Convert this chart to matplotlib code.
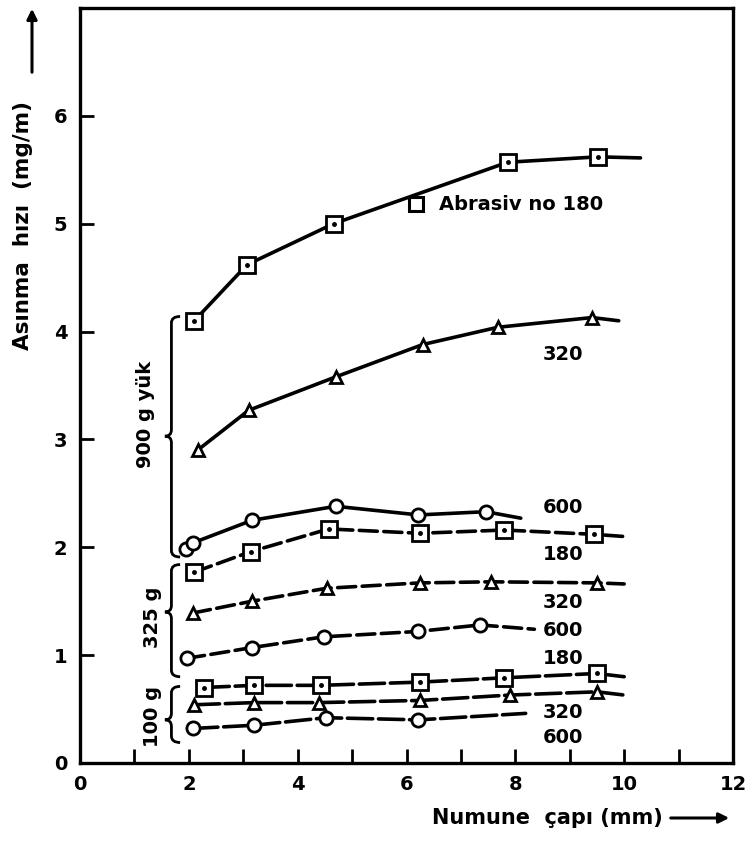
import matplotlib
matplotlib.use("Agg")
import matplotlib.pyplot as plt
from matplotlib.path import Path
from matplotlib.patches import PathPatch

# --- data ---
# 900 g load
x_900_180 = [2.1, 3.07, 4.66, 7.86, 9.52]
y_900_180 = [4.1, 4.62, 5.0, 5.57, 5.62]
x_900_320 = [2.16, 3.1, 4.7, 6.3, 7.68, 9.41]
y_900_320 = [2.9, 3.27, 3.58, 3.88, 4.04, 4.13]
x_900_600 = [1.95, 2.07, 3.16, 4.7, 6.22, 7.46]
y_900_600 = [1.98, 2.04, 2.25, 2.38, 2.3, 2.33]
# 325 g load
x_325_180 = [2.1, 3.14, 4.57, 6.25, 7.8, 9.45]
y_325_180 = [1.77, 1.96, 2.17, 2.13, 2.16, 2.12]
x_325_320 = [2.07, 3.16, 4.53, 6.25, 7.56, 9.5]
y_325_320 = [1.39, 1.5, 1.62, 1.67, 1.68, 1.67]
x_325_600 = [1.96, 3.16, 4.48, 6.22, 7.35]
y_325_600 = [0.97, 1.07, 1.17, 1.22, 1.28]
# 100 g load
x_100_180 = [2.28, 3.2, 4.42, 6.25, 7.8, 9.5]
y_100_180 = [0.7, 0.72, 0.72, 0.75, 0.79, 0.83]
x_100_320 = [2.1, 3.2, 4.39, 6.25, 7.9, 9.5]
y_100_320 = [0.54, 0.56, 0.56, 0.58, 0.63, 0.66]
x_100_600 = [2.07, 3.2, 4.52, 6.22]
y_100_600 = [0.32, 0.35, 0.42, 0.4]

# where each drawn curve runs out past the last marker
end_900_180 = (10.3, 5.61)
end_900_320 = (9.9, 4.1)
end_900_600 = (8.1, 2.27)
end_325_180 = (10.0, 2.1)
end_325_320 = (10.0, 1.66)
end_325_600 = (8.35, 1.24)
end_100_180 = (10.0, 0.8)
end_100_320 = (10.0, 0.63)
end_100_600 = (8.19, 0.46)

grit_labels = ["320", "600", "180", "320", "600", "180", "320", "600"]
grit_label_y = [3.79, 2.37, 1.93, 1.49, 1.23, 0.97, 0.47, 0.24]
grit_label_x = 8.87

load_labels = ["900 g yük", "325 g", "100 g"]
# brace: bottom, tip, top
load_braces = [(1.91, 3.03, 4.14), (0.80, 1.40, 1.84), (0.19, 0.40, 0.71)]
load_label_pos = [(1.2, 3.23), (1.33, 1.35), (1.33, 0.43)]

FONT = dict(family="DejaVu Sans", weight="bold", size=14)
LW = 2.6

fig = plt.figure(figsize=(7.46, 8.42), dpi=100)
ax = fig.add_axes([80/746, 1-763/842, 653/746, 755/842])
ax.set_xlim(0, 12)
ax.set_ylim(0, 7)


def curve(xs, ys, end, marker, ms, ls):
    ax.plot(list(xs) + [end[0]], list(ys) + [end[1]], color="black", lw=LW,
            linestyle=ls, solid_capstyle="round", dash_capstyle="round", zorder=2)
    ax.plot(xs, ys, linestyle="none", marker=marker, ms=ms, mfc="white",
            mec="black", mew=2.0, zorder=3)
    if marker == "s":
        ax.plot(xs, ys, linestyle="none", marker="o", ms=2.5, color="black", zorder=4)


dash1 = (0, (5, 1.8))
dash2 = (0, (7, 1.6))

curve(x_900_180, y_900_180, end_900_180, "s", 11, "-")
curve(x_900_320, y_900_320, end_900_320, "^", 9, "-")
curve(x_900_600, y_900_600, end_900_600, "o", 9.5, "-")
curve(x_325_180, y_325_180, end_325_180, "s", 11, dash1)
curve(x_325_320, y_325_320, end_325_320, "^", 9, dash1)
curve(x_325_600, y_325_600, end_325_600, "o", 9.5, dash1)
curve(x_100_180, y_100_180, end_100_180, "s", 11, dash2)
curve(x_100_320, y_100_320, end_100_320, "^", 8.5, dash2)
curve(x_100_600, y_100_600, end_100_600, "o", 9.5, dash2)

for lab, yy in zip(grit_labels, grit_label_y):
    ax.text(grit_label_x, yy, lab, ha="center", va="center", **FONT)

# legend entry drawn inside the plot
ax.plot([6.18], [5.18], linestyle="none", marker="s", ms=10, mfc="white",
        mec="black", mew=2.2)
ax.text(6.6, 5.18, "Abrasiv no 180", ha="left", va="center", **FONT)

# curly braces for load groups
bx = 1.68
for (y0, yt, y1), lab, (lx, ly) in zip(load_braces, load_labels, load_label_pos):
    w, h = 0.16, 0.06
    verts = [(bx + w, y1), (bx, y1), (bx, y1 - h),
             (bx, yt + h), (bx, yt), (bx - 0.12, yt),
             (bx, yt), (bx, yt - h),
             (bx, y0 + h), (bx, y0), (bx + w, y0)]
    codes = [Path.MOVETO, Path.CURVE3, Path.CURVE3,
             Path.LINETO, Path.CURVE3, Path.CURVE3,
             Path.CURVE3, Path.CURVE3,
             Path.LINETO, Path.CURVE3, Path.CURVE3]
    ax.add_patch(PathPatch(Path(verts, codes), fill=False, lw=2.0,
                           edgecolor="black", clip_on=False))
    ax.text(lx, ly, lab, rotation=90, ha="center", va="center", **FONT)

ax.set_xticks(range(0, 13))
ax.set_xticklabels([str(v) if v % 2 == 0 else "" for v in range(0, 13)])
ax.set_yticks(range(0, 7))
ax.tick_params(direction="in", length=10, width=2, pad=9, labelsize=14)
for lab in ax.get_xticklabels() + ax.get_yticklabels():
    lab.set_fontweight("bold")
for sp in ax.spines.values():
    sp.set_linewidth(2.4)

# axis titles with arrows
fig.text(23/746, 1-225/842, "Asınma  hızı  (mg/m)", rotation=90, ha="center",
         va="center", family="DejaVu Sans", weight="bold", size=15.5)
fig.add_artist(matplotlib.patches.FancyArrowPatch(
    (32/746, 1-75/842), (32/746, 1-6/842), transform=fig.transFigure,
    arrowstyle="-|>,head_length=6,head_width=3", lw=2.2, color="black"))
fig.text(432/746, 1-818/842, "Numune  çapı (mm)", ha="left", va="center",
         family="DejaVu Sans", weight="bold", size=15)
fig.add_artist(matplotlib.patches.FancyArrowPatch(
    (668/746, 1-818/842), (732/746, 1-818/842), transform=fig.transFigure,
    arrowstyle="-|>,head_length=6,head_width=3", lw=2.2, color="black"))

fig.savefig("out.png", dpi=100)
